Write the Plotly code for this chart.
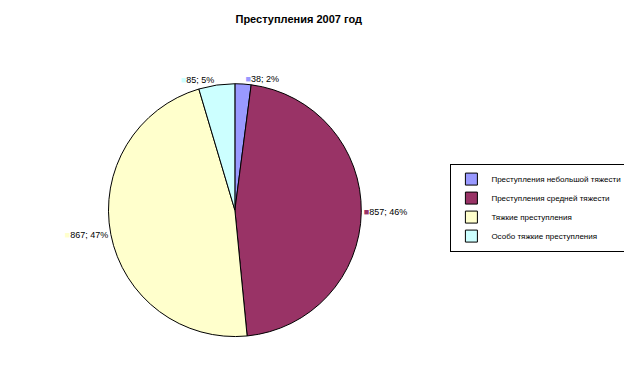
import plotly.graph_objects as go

categories = ["Преступления небольшой тяжести", "Преступления средней тяжести",
              "Тяжкие преступления", "Особо тяжкие преступления"]
values = [38, 857, 867, 85]
percents = [2, 46, 47, 5]
colors = ["#9999FF", "#993366", "#FFFFCC", "#CCFFFF"]

texts = [f"<span style='color:{c}'>■</span>{v}; {p}%" for c, v, p in zip(colors, values, percents)]
FONT = "Liberation Sans, Arial"

fig = go.Figure(go.Pie(
    labels=categories,
    values=values,
    text=texts,
    textinfo="text",
    textposition="outside",
    sort=False,
    direction="clockwise",
    rotation=0,
    marker=dict(colors=colors, line=dict(color="#000000", width=1)),
    textfont=dict(family=FONT, size=9, color="#000000"),
    domain=dict(x=[0.159, 0.559], y=[0.153, 0.805]),
    hoverinfo="label+value+percent",
))

fig.update_layout(
    width=632, height=388,
    margin=dict(l=0, r=0, t=0, b=0),
    paper_bgcolor="#FFFFFF",
    plot_bgcolor="#FFFFFF",
    title=dict(text="<b>Преступления 2007 год</b>", x=0.46, xanchor="center",
               y=0.97, yanchor="middle",
               font=dict(family=FONT, size=11, color="#000000")),
    legend=dict(x=0.70, y=0.599, xanchor="left", yanchor="top",
                bordercolor="#000000", borderwidth=1,
                font=dict(family=FONT, size=8, color="#000000"),
                tracegroupgap=0, itemwidth=30),
    showlegend=True,
)

fig.write_html("out.html")
